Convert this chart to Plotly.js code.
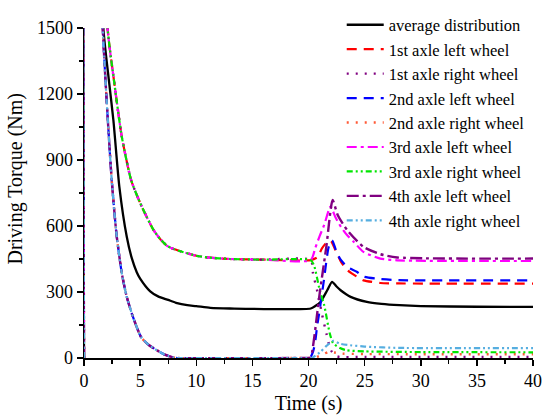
<!DOCTYPE html>
<html>
<head>
<meta charset="utf-8">
<script src="https://cdn.plot.ly/plotly-3.0.1.min.js"></script>
<style>html,body{margin:0;padding:0;background:#fff;}#chart{width:550px;height:420px;}</style>
</head>
<body>
<div id="chart"></div>
<script>
// ---- data ----
// shared profiles before the 20 s event
const tAvgPre  = [0, 0.03, 1.72, 2.2, 2.62, 3.15, 3.81, 4.25, 4.7, 5.0, 5.9, 6.6, 7.5, 8.2, 9.2, 10, 11.25, 13, 20.2];
const vAvgPre  = [0, 4000, 1500, 1270, 1080, 778, 551, 455, 390, 361, 303, 280, 264, 251, 240, 236, 228, 225, 225];
const tHighPre = [0, 0.03, 2.1, 2.7, 3.37, 4.2, 5.0, 5.6, 6.2, 6.8, 7.4, 8.0, 8.6, 10, 11, 13, 16, 20.2];
const vHighPre = [0, 4000, 1500, 1250, 1005, 808, 705, 640, 581, 540, 510, 495, 485, 465, 457, 450, 447, 445];
const tLowPre  = [0, 0.03, 1.67, 2.03, 2.47, 2.9, 3.37, 3.8, 4.26, 4.7, 5.0, 5.15, 5.8, 6.5, 7.2, 7.5, 7.97, 8.3, 20.1];
const vLowPre  = [0, 4000, 1500, 1160, 808, 560, 384, 280, 202, 140, 103, 90, 58, 35, 15, 10, 2, 0, 0];

// after the 20 s event, per series
const tAvgPost = [20.6, 21.07, 21.67, 22.1, 22.5, 22.86, 23.75, 25.2, 26.5, 28.1, 30, 35, 40];
const vAvgPost = [236, 255, 308, 346, 325, 308, 278, 255, 246, 240, 236, 233, 232];
const t1LPost = [20.8, 21.2, 21.67, 22.0, 22.4, 22.9, 23.45, 24.3, 24.9, 26.4, 28, 40];
const v1LPost = [458, 498, 528, 532, 490, 437, 400, 370, 353, 341, 339, 338];
const t1RPost = [20.4, 20.8, 21.2, 21.6, 22.0, 22.5, 25, 40];
const v1RPost = [385, 300, 200, 110, 35, 8, 5, 5];
const t2LPost = [20.8, 21.37, 21.8, 22.1, 22.45, 22.8, 23.45, 24.3, 24.9, 26.0, 28, 40];
const v2LPost = [156, 353, 505, 535, 490, 452, 414, 392, 370, 361, 354, 353];
const t2RPost = [20.5, 21.2, 21.8, 22.3, 23, 25, 40];
const v2RPost = [0, 15, 28, 25, 20, 18, 17];
const t3LPost = [20.6, 21.0, 21.4, 21.96, 22.4, 22.9, 23.45, 24.0, 24.9, 26.4, 27.9, 40];
const v3LPost = [500, 555, 605, 688, 640, 595, 558, 530, 482, 452, 444, 441];
const t3RPost = [20.5, 21.0, 21.4, 21.9, 22.2, 22.8, 23.4, 25, 30, 40];
const v3RPost = [420, 308, 240, 110, 67, 45, 35, 30, 27, 26];
const t4LPost = [20.2, 21.0, 21.6, 22.15, 22.6, 23.45, 24.9, 26.4, 27.9, 40];
const v4LPost = [0, 295, 510, 718, 650, 581, 505, 472, 457, 452];
const t4RPost = [20.3, 21.0, 21.6, 22.2, 22.8, 23.7, 25, 28, 40];
const v4RPost = [0, 25, 55, 78, 65, 58, 52, 46, 45];

const seriesNames = ['average distribution', '1st axle left wheel', '1st axle right wheel',
  '2nd axle left wheel', '2nd axle right wheel', '3rd axle left wheel', '3rd axle right wheel',
  '4th axle left wheel', '4th axle right wheel'];

// ---- styles ----
const styles = [
  {color: '#000000', dash: 'solid', width: 2.3},
  {color: '#ff0000', dash: '10px,7px', width: 2.2},
  {color: '#800080', dash: '2px,7px', width: 2.4},
  {color: '#0000ff', dash: '10px,7px', width: 2.2},
  {color: '#ff5a36', dash: '2px,7px', width: 2.4},
  {color: '#ff00ff', dash: '10px,4px,3px,4px', width: 2.2},
  {color: '#00e600', dash: '6px,3px,2px,3px,2px,3px', width: 2.2},
  {color: '#800080', dash: '12px,4px,3px,4px', width: 2.4},
  {color: '#56aee0', dash: '6px,3px,2px,3px,2px,3px', width: 2.2}
];

const xs = [
  tAvgPre.concat(tAvgPost),
  tHighPre.concat(t1LPost), tHighPre.concat(t1RPost),
  tLowPre.concat(t2LPost), tLowPre.concat(t2RPost),
  tHighPre.concat(t3LPost), tHighPre.concat(t3RPost),
  tLowPre.concat(t4LPost), tLowPre.concat(t4RPost)
];
const ys = [
  vAvgPre.concat(vAvgPost),
  vHighPre.concat(v1LPost), vHighPre.concat(v1RPost),
  vLowPre.concat(v2LPost), vLowPre.concat(v2RPost),
  vHighPre.concat(v3LPost), vHighPre.concat(v3RPost),
  vLowPre.concat(v4LPost), vLowPre.concat(v4RPost)
];

const traces = seriesNames.map((n, i) => ({
  type: 'scatter', mode: 'lines', name: n, x: xs[i], y: ys[i],
  line: {color: styles[i].color, dash: styles[i].dash, width: styles[i].width, shape: 'spline', smoothing: 0.6}
}));

const font = 'Liberation Serif';
const layout = {
  width: 550, height: 420,
  margin: {l: 84, r: 17, t: 28, b: 62, autoexpand: false},
  paper_bgcolor: '#fff', plot_bgcolor: '#fff',
  font: {family: font, color: '#000', size: 18},
  showlegend: true,
  legend: {x: 0.574, y: 1.062, xanchor: 'left', yanchor: 'top',
           bgcolor: 'rgba(0,0,0,0)',
           font: {family: font, size: 16.5, color: '#000'}, itemwidth: 37, maxheight: 400,
           tracegroupgap: 0, traceorder: 'normal'},
  xaxis: {
    range: [0, 40], tick0: 0, dtick: 5, ticks: 'outside', ticklen: 6, tickwidth: 1.5, tickcolor: '#000',
    minor: {dtick: 2.5, ticks: 'outside', ticklen: 4, tickwidth: 1.2, tickcolor: '#000'},
    showline: true, linecolor: '#000', linewidth: 1.5, showgrid: false, zeroline: false,
    tickfont: {family: font, size: 18, color: '#000'}, fixedrange: true,
    title: {text: 'Time (s)', font: {family: font, size: 20, color: '#000'}, standoff: 6}
  },
  yaxis: {
    range: [0, 1500], tick0: 0, dtick: 300, ticks: 'outside', ticklen: 6, tickwidth: 1.5, tickcolor: '#000',
    minor: {dtick: 150, ticks: 'outside', ticklen: 4, tickwidth: 1.2, tickcolor: '#000'},
    showline: true, linecolor: '#000', linewidth: 1.5, showgrid: false, zeroline: false,
    tickfont: {family: font, size: 18, color: '#000'}, fixedrange: true
  },
  annotations: [{
    text: 'Driving Torque (Nm)', textangle: -90, xref: 'paper', yref: 'paper',
    x: -0.152, y: 0.543, xanchor: 'center', yanchor: 'middle', showarrow: false,
    font: {family: font, size: 20, color: '#000'}
  }]
};

Plotly.newPlot('chart', traces, layout, {displayModeBar: false, staticPlot: true});
</script>
</body>
</html>
